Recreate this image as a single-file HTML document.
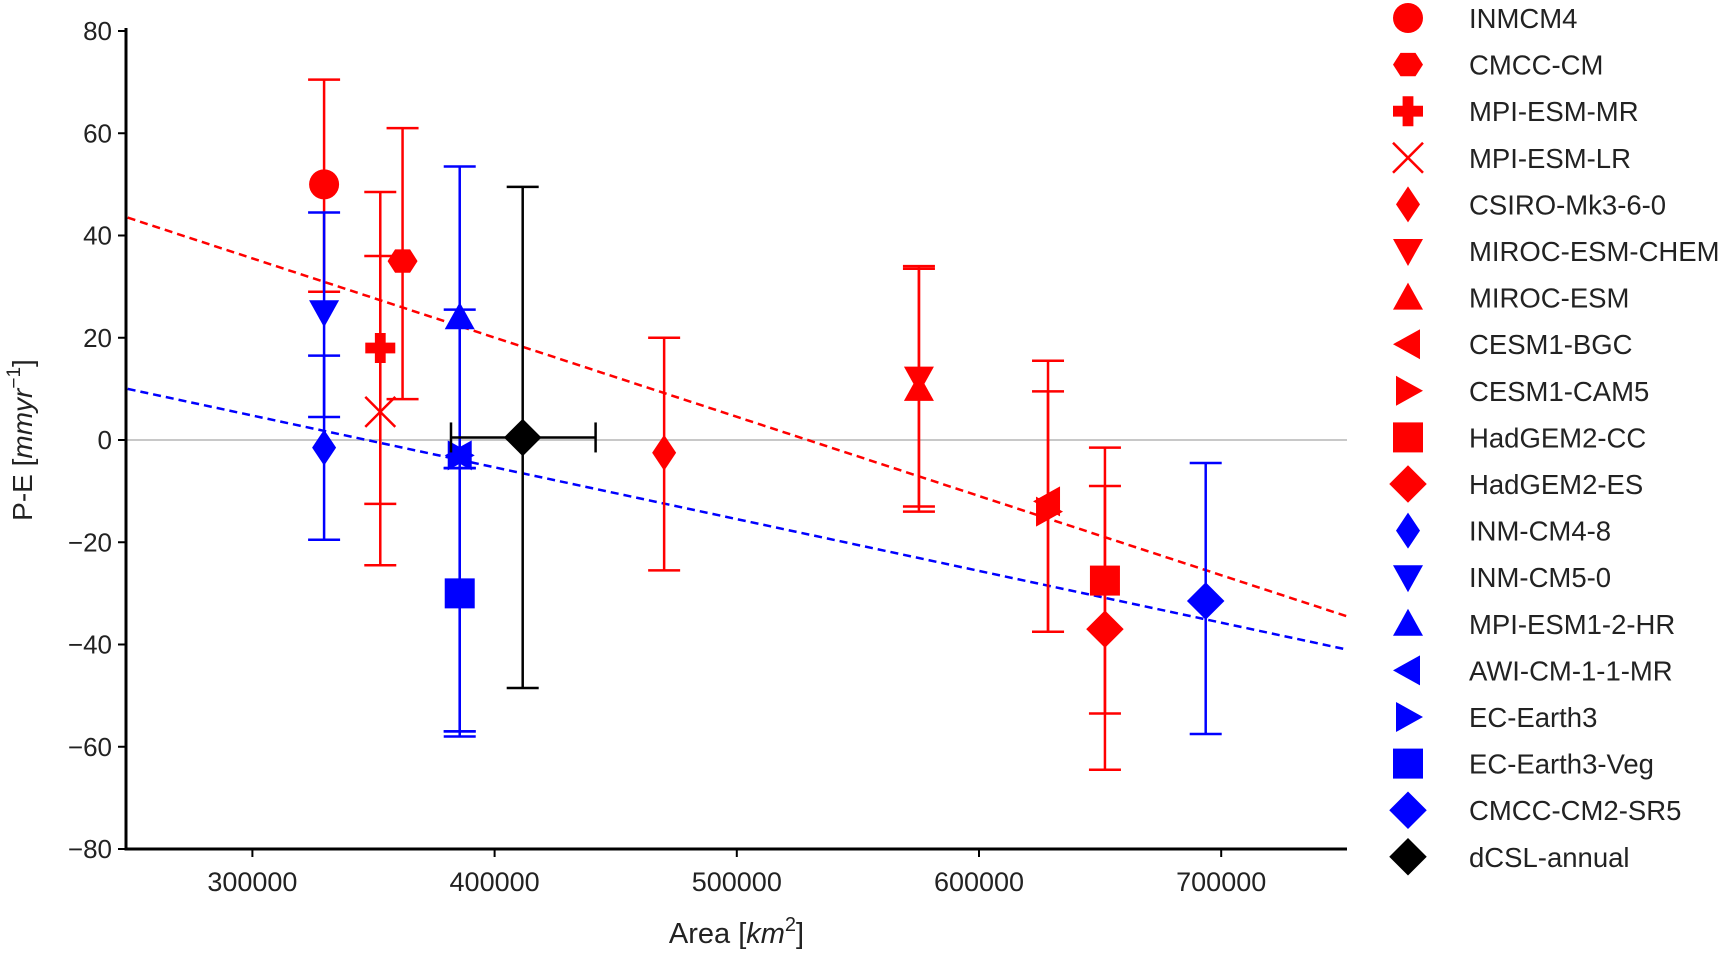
<!DOCTYPE html>
<html><head><meta charset="utf-8"><style>
html,body{margin:0;padding:0;background:#fff;width:1725px;height:953px;overflow:hidden}
svg text{font-family:"Liberation Sans",sans-serif;fill:#222}
</style></head><body>
<svg id="chart" width="1725" height="953" viewBox="0 0 1725 953" xmlns="http://www.w3.org/2000/svg"></svg>
<script>
const models = ["INMCM4","CMCC-CM","MPI-ESM-MR","MPI-ESM-LR","CSIRO-Mk3-6-0","MIROC-ESM-CHEM","MIROC-ESM","CESM1-BGC","CESM1-CAM5","HadGEM2-CC","HadGEM2-ES","INM-CM4-8","INM-CM5-0","MPI-ESM1-2-HR","AWI-CM-1-1-MR","EC-Earth3","EC-Earth3-Veg","CMCC-CM2-SR5","dCSL-annual"];
const markers = ["circle","hexagon","plus","x","thindiamond","tridown","triup","trileft","triright","square","diamond","thindiamond","tridown","triup","trileft","triright","square","diamond","diamond"];
const colors = ["red","red","red","red","red","red","red","red","red","red","red","blue","blue","blue","blue","blue","blue","blue","black"];
const areaValues = [329600,362000,352800,352800,470000,575200,575200,628500,628500,652000,652000,329600,329600,385600,385600,385600,385600,693600,411600];
const peValues = [50,35,18,5.5,-2.5,12,10,-12,-14,-27.5,-37,-1.5,25,24,-3,-3,-30,-31.5,0.5];
const errHigh = [70.5,61,48.5,36,20,34,33.5,15.5,9.5,-1.5,-9,16.5,44.5,53.5,25.5,-5.5,-5.5,-4.5,49.5];
const errLow = [29,8,-12.5,-24.5,-25.5,-13,-14,-37.5,-37.5,-53.5,-64.5,-19.5,4.5,-5.5,-57,-57,-58,-57.5,-48.5];
const dcslAreaErr = [382000,441700];
const redFit = [[248500,43.5],[752000,-34.5]];
const blueFit = [[248500,10],[752000,-41]];
const xTicks = [300000,400000,500000,600000,700000];
const yTicks = [-80,-60,-40,-20,0,20,40,60,80];

const L=126,R=1347,T=31,B=849;
const X=v=>252.4+(v-300000)/100000*242.2;
const Y=v=>B-(v+80)/160*(B-T);
const svg=document.getElementById('chart');
const NS="http://www.w3.org/2000/svg";
function mk(tag,attrs,parent){const e=document.createElementNS(NS,tag);for(const k in attrs)e.setAttribute(k,attrs[k]);(parent||svg).appendChild(e);return e;}

let z=mk('line',{x1:L,x2:R,y1:Y(0),y2:Y(0),stroke:'#c8c8c8','stroke-width':2});



[[redFit,'red','red-regression-line'],[blueFit,'blue','blue-regression-line']].forEach(([f,c,n])=>{
  const l=mk('line',{x1:X(f[0][0]),y1:Y(f[0][1]),x2:X(f[1][0]),y2:Y(f[1][1]),stroke:c,'stroke-width':2.5,'stroke-dasharray':'8,5'});
  
  
});

function marker(kind,cx,cy,s,c,parent){
  const p=parent;
  switch(kind){
    case 'circle': return mk('circle',{cx,cy,r:s,fill:c},p);
    case 'hexagon':{let pts=[];for(let i=0;i<6;i++){const a=Math.PI/3*i;pts.push((cx+s*Math.cos(a))+','+(cy+s*0.9*Math.sin(a)));}return mk('polygon',{points:pts.join(' '),fill:c},p);}
    case 'plus':{const w=s*0.36;return mk('path',{d:`M${cx-w},${cy-s}h${2*w}v${s-w}h${s-w}v${2*w}h${-(s-w)}v${s-w}h${-2*w}v${-(s-w)}h${-(s-w)}v${-2*w}h${s-w}z`,fill:c},p);}
    case 'x': return mk('path',{d:`M${cx-s},${cy-s}L${cx+s},${cy+s}M${cx-s},${cy+s}L${cx+s},${cy-s}`,stroke:c,'stroke-width':2.5,fill:'none'},p);
    case 'thindiamond': return mk('polygon',{points:`${cx},${cy-s*1.2} ${cx+s*0.8},${cy} ${cx},${cy+s*1.2} ${cx-s*0.8},${cy}`,fill:c},p);
    case 'diamond': return mk('polygon',{points:`${cx},${cy-s*1.25} ${cx+s*1.25},${cy} ${cx},${cy+s*1.25} ${cx-s*1.25},${cy}`,fill:c},p);
    case 'square': return mk('rect',{x:cx-s,y:cy-s,width:s*2,height:s*2,fill:c},p);
    case 'tridown': return mk('polygon',{points:`${cx-s},${cy-s*0.8} ${cx+s},${cy-s*0.8} ${cx},${cy+s}`,fill:c},p);
    case 'triup': return mk('polygon',{points:`${cx-s},${cy+s*0.8} ${cx+s},${cy+s*0.8} ${cx},${cy-s}`,fill:c},p);
    case 'trileft': return mk('polygon',{points:`${cx+s*0.8},${cy-s} ${cx+s*0.8},${cy+s} ${cx-s},${cy}`,fill:c},p);
    case 'triright': return mk('polygon',{points:`${cx-s*0.8},${cy-s} ${cx-s*0.8},${cy+s} ${cx+s},${cy}`,fill:c},p);
  }
}

models.forEach((m,i)=>{
  const g=mk('g',{});
  
  
  const c=colors[i],cx=X(areaValues[i]);
  mk('line',{x1:cx,x2:cx,y1:Y(errHigh[i]),y2:Y(errLow[i]),stroke:c,'stroke-width':2.5},g);
  [errHigh[i],errLow[i]].forEach(v=>mk('line',{x1:cx-16,x2:cx+16,y1:Y(v),y2:Y(v),stroke:c,'stroke-width':2.5},g));
  if(m==='dCSL-annual'){
    mk('line',{x1:X(dcslAreaErr[0]),x2:X(dcslAreaErr[1]),y1:Y(peValues[i]),y2:Y(peValues[i]),stroke:c,'stroke-width':2.5},g);
    dcslAreaErr.forEach(v=>mk('line',{x1:X(v),x2:X(v),y1:Y(peValues[i])-15,y2:Y(peValues[i])+15,stroke:c,'stroke-width':2.5},g));
  }
  marker(markers[i],cx,Y(peValues[i]),15,c,g);
});

let ax=mk('path',{d:`M${L},${T-3}V${B}H${R}`,stroke:'#000','stroke-width':3,fill:'none'});


yTicks.forEach(v=>{
  mk('line',{x1:L-8,x2:L,y1:Y(v),y2:Y(v),stroke:'#000','stroke-width':2});
  const t=mk('text',{x:L-14,y:Y(v)+9,'text-anchor':'end','font-size':26});
  t.textContent=(v<0?'\u2212':'')+Math.abs(v);
  
  
});
xTicks.forEach(v=>{
  mk('line',{x1:X(v),x2:X(v),y1:B,y2:B+8,stroke:'#000','stroke-width':2});
  const t=mk('text',{x:X(v),y:B+42,'text-anchor':'middle','font-size':27});
  t.textContent=v;
  
  
});
let xt=mk('text',{x:(L+R)/2,y:943,'text-anchor':'middle','font-size':29});
xt.innerHTML='Area [<tspan font-style="italic">km</tspan><tspan dy="-12" font-size="20">2</tspan><tspan dy="12">]</tspan>';


let yt=mk('text',{x:0,y:0,'text-anchor':'middle','font-size':28,transform:`translate(32,${(T+B)/2}) rotate(-90)`});
yt.innerHTML='P-E [<tspan font-style="italic">mmyr</tspan><tspan dy="-12" font-size="19">−1</tspan><tspan dy="12">]</tspan>';



models.forEach((m,i)=>{
  const g=mk('g',{});
  
  
  const y=18+i*46.6;
  marker(markers[i],1408,y,15,colors[i],g);
  const t=mk('text',{x:1469,y:y+10,'font-size':27.5},g);
  t.textContent=m;
});
</script>
</body></html>
